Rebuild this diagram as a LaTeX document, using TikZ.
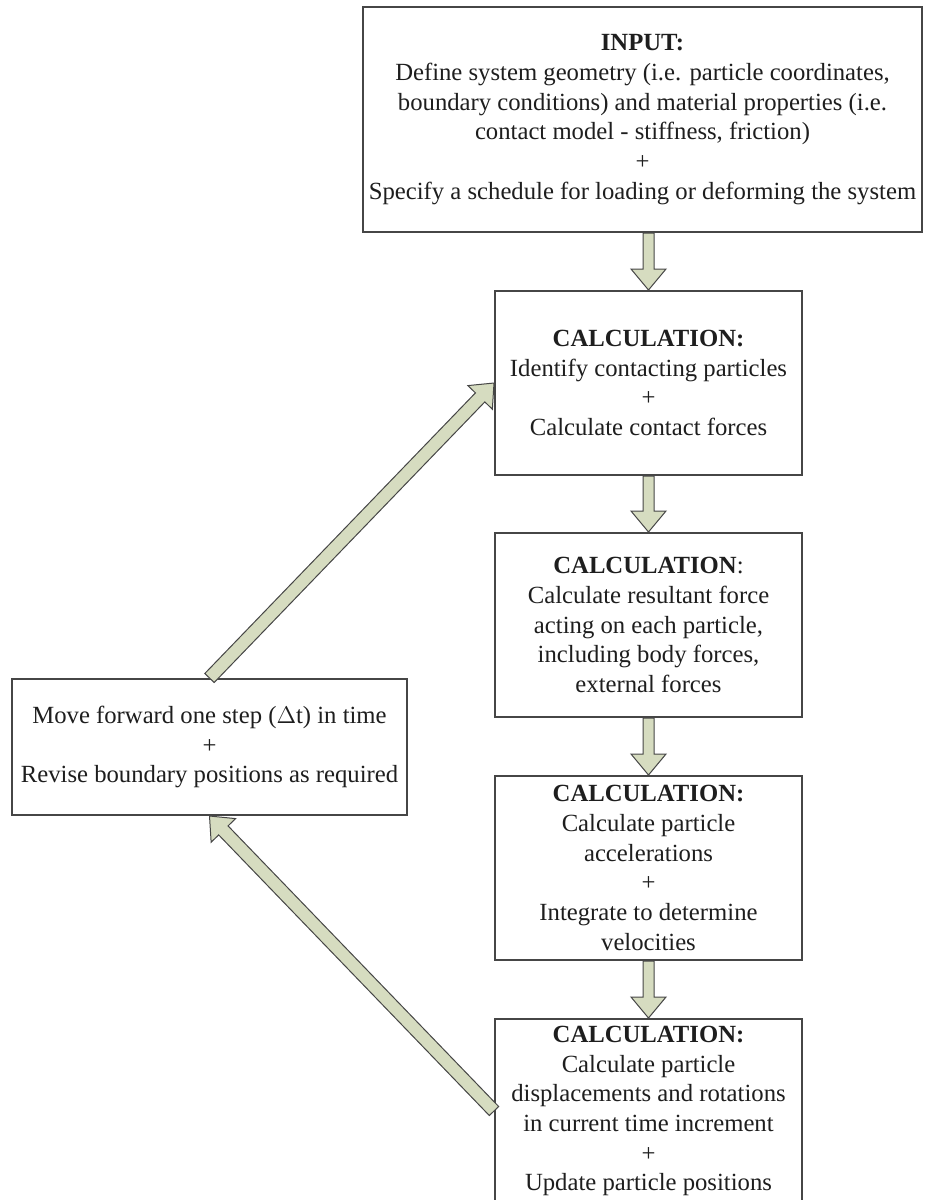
\documentclass[tikz,border=0pt]{standalone}
\usepackage{fontspec}
\setmainfont{Liberation Serif}
\usepackage{tikz}
\usetikzlibrary{calc}

\definecolor{arrowfill}{RGB}{214,220,192}
\definecolor{boxline}{RGB}{70,70,70}
\definecolor{txt}{RGB}{30,30,30}

\tikzset{
	box/.style={draw=boxline, line width=1pt, fill=white, align=center, text=txt,
		inner sep=0pt, font=\fontsize{12.35}{14.85}\selectfont},
	calcbox/.style={box, minimum width=153.5pt, minimum height=92pt},
	fatarrow/.style={draw=boxline, line width=0.5pt, fill=arrowfill, line join=miter},
}

% fat block arrow: from, to, shaft half width, head half width, head length
\newcommand{\blockarrow}[5]{%
	\coordinate (ha) at ($(#2)!#5!(#1)$);
	\draw[fatarrow] ($(#1)!#3!90:(#2)$) -- ($(ha)!#3!90:(#2)$) -- ($(ha)!#4!90:(#2)$) -- (#2)
		-- ($(ha)!#4!-90:(#2)$) -- ($(ha)!#3!-90:(#2)$) -- ($(#1)!#3!-90:(#2)$) -- cycle;
}

\begin{document}
\begin{tikzpicture}[x=0.5pt, y=-0.5pt]
			\def\sw{2.75pt};
			\def\hw{8.75pt};
			\def\hl{10.5pt};
			
			\useasboundingbox (0,0) rectangle (925,1200);
			
			\node[box, minimum width=279.5pt, minimum height=112.5pt] (input) at (642.5,119.5)
				{\textbf{INPUT:}\\
				Define system geometry (i.e. particle coordinates,\\
				boundary conditions) and material properties (i.e.\\
				contact model - stiffness, friction)\\
				+\\
				Specify a schedule for loading or deforming the system};
			
			\node[calcbox] (calc1) at (648.5,383)
				{\textbf{CALCULATION:}\\
				Identify contacting particles\\
				+\\
				Calculate contact forces};
			
			\node[calcbox] (calc2) at (648.5,625)
				{\textbf{CALCULATION}:\\
				Calculate resultant force\\
				acting on each particle,\\
				including body forces,\\
				external forces};
			
			\node[calcbox] (calc3) at (648.5,868)
				{\textbf{CALCULATION:}\\
				Calculate particle\\
				accelerations\\
				+\\
				Integrate to determine\\
				velocities};
			
			\node[calcbox] (calc4) at (648.5,1111)
				{\textbf{CALCULATION:}\\
				Calculate particle\\
				displacements and rotations\\
				in current time increment\\
				+\\
				Update particle positions};
			
			\node[box, minimum width=197.5pt, minimum height=68pt] (move) at (209.5,747)
				{Move forward one step ($\Delta$t) in time\\
				+\\
				Revise boundary positions as required};
			
			\blockarrow{input.south -| calc1.north}{calc1.north}{\sw}{\hw}{\hl}
			\blockarrow{calc1.south}{calc2.north}{\sw}{\hw}{\hl}
			\blockarrow{calc2.south}{calc3.north}{\sw}{\hw}{\hl}
			\blockarrow{calc3.south}{calc4.north}{\sw}{\hw}{\hl}
			
			\blockarrow{move.north}{calc1.west}{3.25pt}{8.5pt}{10pt}
			\blockarrow{calc4.west}{move.south}{3.25pt}{8.5pt}{10pt}
		\end{tikzpicture}
\end{document}
